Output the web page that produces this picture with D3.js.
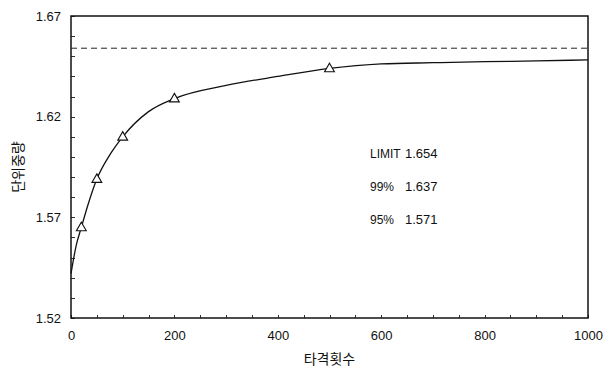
<!DOCTYPE html>
<html>
<head>
<meta charset="utf-8">
<script src="https://cdn.jsdelivr.net/npm/d3@7"></script>
<style>
  html, body { margin: 0; padding: 0; background: #fff; }
  svg text { font-family: "Liberation Sans", Arial, sans-serif; fill: #111; }
  .kr { font-family: "Noto Sans CJK KR", "Liberation Sans", sans-serif; }
</style>
</head>
<body>
<svg id="chart" width="604" height="374"></svg>
<script>
// Measured points: number of blows vs. unit weight
const blows = [20, 50, 100, 200, 500];
const unitWeight = [1.565, 1.589, 1.610, 1.629, 1.644];

// Fitted curve, sampled along the blow count
const curveX = [0, 10, 20, 35, 50, 75, 100, 150, 200, 300, 400, 500, 600, 700, 800, 900, 1000];
const curveY = [1.542, 1.556, 1.565, 1.578, 1.589, 1.601, 1.610, 1.6225, 1.629, 1.6355, 1.640, 1.644, 1.6462, 1.6468, 1.6473, 1.6477, 1.6482];

// Limit line
const limitValue = 1.654;

// Axis ticks
const xTicks = [0, 200, 400, 600, 800, 1000];
const yTicks = [1.52, 1.57, 1.62, 1.67];

// Annotation rows
const noteLabels = ["LIMIT", "99%", "95%"];
const noteValues = ["1.654", "1.637", "1.571"];

const svg = d3.select("#chart");
const m = { left: 71, right: 588, top: 16, bottom: 318 };

const x = d3.scaleLinear().domain([0, 1000]).range([m.left, m.right]);
const y = d3.scaleLinear().domain([1.52, 1.67]).range([m.bottom, m.top]);

// Minor inward ticks
const g = svg.append("g");
g.selectAll("line.ym").data(d3.range(1.52, 1.6701, 0.01)).join("line")
  .attr("x1", m.left).attr("x2", m.left + 4)
  .attr("y1", d => Math.round(y(d)) + 0.5).attr("y2", d => Math.round(y(d)) + 0.5)
  .attr("stroke", "#333").attr("stroke-width", 1);
g.selectAll("line.xm").data(d3.range(0, 1001, 50)).join("line")
  .attr("x1", d => Math.round(x(d)) + 0.5).attr("x2", d => Math.round(x(d)) + 0.5)
  .attr("y1", m.bottom).attr("y2", m.bottom - 3)
  .attr("stroke", "#333").attr("stroke-width", 1);

// Frame
svg.append("rect")
  .attr("x", m.left).attr("y", m.top)
  .attr("width", m.right - m.left).attr("height", m.bottom - m.top)
  .attr("fill", "none").attr("stroke", "#111").attr("stroke-width", 1.5);

// Axes (labels only)
const xAxis = svg.append("g").attr("transform", `translate(0,${m.bottom})`)
  .call(d3.axisBottom(x).tickValues(xTicks).tickFormat(d3.format("d")).tickSize(0).tickPadding(13));
const yAxis = svg.append("g").attr("transform", `translate(${m.left},0)`)
  .call(d3.axisLeft(y).tickValues(yTicks).tickFormat(d3.format(".2f")).tickSize(0).tickPadding(10));
[xAxis, yAxis].forEach(a => {
  a.select(".domain").remove();
  a.selectAll("text").attr("font-size", 13).attr("font-family", "Liberation Sans, Arial, sans-serif").attr("fill", "#111");
});

// Limit line
svg.append("line")
  .attr("x1", x(0)).attr("x2", x(1000))
  .attr("y1", y(limitValue)).attr("y2", y(limitValue))
  .attr("stroke", "#222").attr("stroke-width", 1)
  .attr("stroke-dasharray", "6,4");

// Fitted curve
const line = d3.line().x(d => x(d[0])).y(d => y(d[1])).curve(d3.curveMonotoneX);
svg.append("path")
  .datum(curveX.map((v, i) => [v, curveY[i]]))
  .attr("d", line)
  .attr("fill", "none").attr("stroke", "#111").attr("stroke-width", 1.3);

// Triangle markers
const tri = d3.symbol().type(d3.symbolTriangle).size(42);
svg.selectAll("path.pt").data(blows.map((v, i) => [v, unitWeight[i]])).join("path")
  .attr("class", "pt")
  .attr("d", tri)
  .attr("transform", d => `translate(${x(d[0])},${y(d[1]) + 0.5})`)
  .attr("fill", "#fff").attr("stroke", "#111").attr("stroke-width", 1.1);

// Annotation
const notes = svg.append("g");
noteLabels.forEach((t, i) => {
  const yy = 158 + i * 33;
  notes.append("text").attr("x", 370).attr("y", yy).attr("font-size", 12).text(t);
  notes.append("text").attr("x", 405).attr("y", yy).attr("font-size", 13).text(noteValues[i]);
});

// Axis titles
svg.append("text").attr("class", "kr")
  .attr("x", x(500)).attr("y", 364)
  .attr("text-anchor", "middle").attr("font-size", 14)
  .text("타격횟수");
svg.append("text").attr("class", "kr")
  .attr("transform", `translate(23,${(m.top + m.bottom) / 2}) rotate(-90)`)
  .attr("text-anchor", "middle").attr("font-size", 14)
  .text("단위중량");
</script>
</body>
</html>
